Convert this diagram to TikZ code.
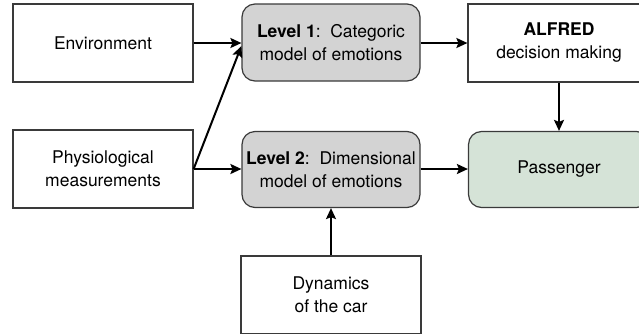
\documentclass[tikz,border=0pt]{standalone}
\usepackage{fontspec}
\setmainfont{TeX Gyre Heros}
\usetikzlibrary{arrows.meta}
\definecolor{bordergray}{HTML}{3A3A3A}
\definecolor{levelgray}{HTML}{D3D3D3}
\definecolor{passgreen}{HTML}{D5E3D7}
\tikzset{
  box/.style={draw=bordergray, line width=1.2pt, fill=white, align=center,
    font=\fontsize{17.5}{23}\selectfont, inner sep=0pt},
  roundbox/.style={box, rounded corners=13pt},
  conn/.style={line width=2pt, -{Stealth[length=11pt, width=10pt, inset=2pt]}},
}
\begin{document}
\begin{tikzpicture}[x=1pt, y=-1pt]
\useasboundingbox (0,0) rectangle (639,333);
\clip (0,0) rectangle (639,333);
\node[box, minimum width=180pt, minimum height=78pt] (env) at (103,43) {Environment};
\node[box, minimum width=180pt, minimum height=78pt] (phys) at (103,169) {Physiological\\measurements};
\node[roundbox, fill=levelgray, minimum width=178pt, minimum height=77pt] (l1) at (331,42.5) {\textbf{Level 1}:\ \ Categoric\\model of emotions};
\node[roundbox, fill=levelgray, minimum width=178pt, minimum height=76pt] (l2) at (331,169.5) {\textbf{Level 2}:\ \ Dimensional\\model of emotions};
\node[box, minimum width=182pt, minimum height=78pt] (alfred) at (559,43) {\textbf{ALFRED}\\decision making};
\node[roundbox, fill=passgreen, minimum width=181pt, minimum height=76pt] (pass) at (559,169.5) {Passenger};
\node[box, minimum width=180pt, minimum height=78pt] (dyn) at (331,295) {Dynamics\\of the car};
\draw[conn] (env.east |- 0,43) -- (l1.west |- 0,43);
\draw[conn] (phys.east) -- (l2.west |- phys.east);
\draw[conn] (phys.east) -- (l1.west |- 0,46);
\draw[conn] (l1.east |- 0,43) -- (alfred.west |- 0,43);
\draw[conn] (l2.east |- 0,169) -- (pass.west |- 0,169);
\draw[conn] (alfred.south) -- (pass.north);
\draw[conn] (dyn.north) -- (l2.south);
\end{tikzpicture}
\end{document}
